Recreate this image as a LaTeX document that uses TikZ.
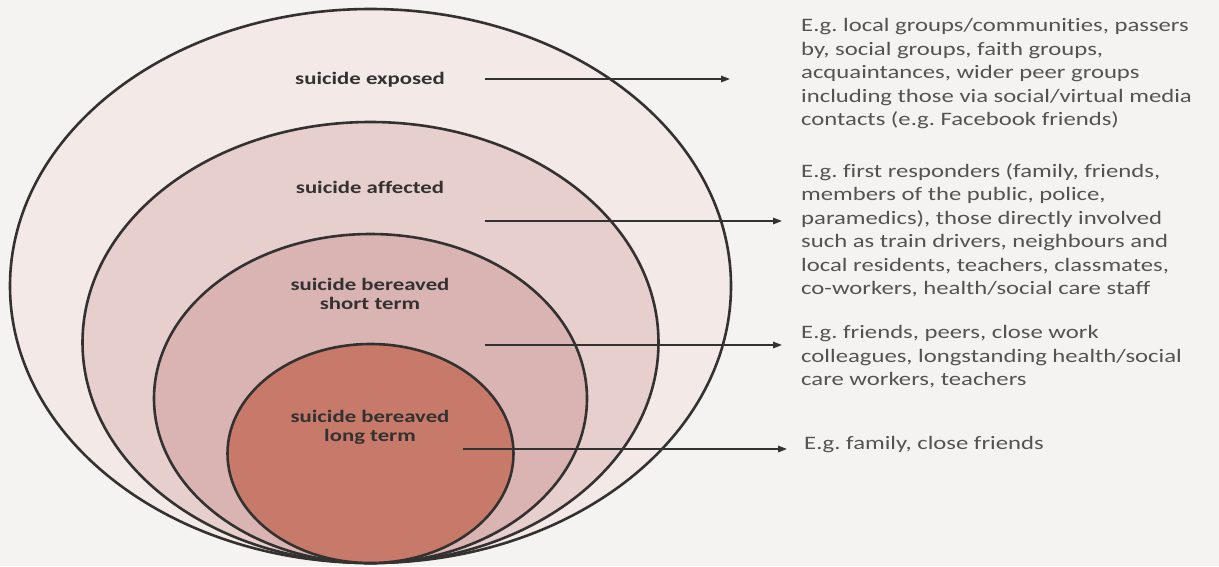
\documentclass[tikz,border=0pt]{standalone}
\usepackage{fontspec}
\setmainfont{Carlito}[FakeStretch=1.3,Ligatures=NoCommon]
\usetikzlibrary{shapes.geometric,arrows.meta}
\definecolor{bg}{RGB}{244,243,242}
\definecolor{c1}{RGB}{243,233,231}
\definecolor{c2}{RGB}{230,207,205}
\definecolor{c3}{RGB}{218,180,179}
\definecolor{c4}{RGB}{200,122,106}
\definecolor{ink}{RGB}{52,49,49}
\definecolor{txt}{RGB}{84,82,82}
\begin{document}
\frenchspacing
\begin{tikzpicture}[x=1pt,y=-1pt,
  ring/.style={ellipse, draw=ink, line width=2.6pt, inner sep=0pt, outer sep=0pt},
  lab/.style={font=\fontsize{17.5}{18.5}\selectfont\bfseries, text=ink, align=center, inner sep=0pt, anchor=base},
  desc/.style={font=\fontsize{19}{23.5}\selectfont, text=txt, align=left, anchor=base west, inner sep=0pt},
  pointer/.style={draw=ink, line width=1.5pt, -{Triangle[length=9pt,width=6.5pt]}}]
\useasboundingbox (0,0) rectangle (1219,566);
\fill[bg] (0,0) rectangle (1219,566);
\node[ring, fill=c1, minimum width=721pt, minimum height=554pt] (r1) at (370.5,286) {};
\node[ring, fill=c2, minimum width=576pt, minimum height=441pt] (r2) at (370.5,342.5) {};
\node[ring, fill=c3, minimum width=433pt, minimum height=329pt] (r3) at (370.5,398.5) {};
\node[ring, fill=c4, minimum width=286pt, minimum height=219pt] (r4) at (370.5,453.5) {};
\node[lab] (l1) at (370,84) {suicide exposed};
\node[lab] (l2) at (370,193) {suicide affected};
\node[lab] (l3) at (370,309) {suicide bereaved\\short term};
\node[lab] (l4) at (370,441) {suicide bereaved\\long term};
\node[desc] (t1) at (801,125.5) {E.g. local groups/communities, passers\\by, social groups, faith groups,\\acquaintances, wider peer groups\\including those via social/virtual media\\contacts (e.g. Facebook friends)};
\node[desc] (t2) at (801,294.5) {E.g. first responders (family, friends,\\members of the public, police,\\paramedics), those directly involved\\such as train drivers, neighbours and\\local residents, teachers, classmates,\\co-workers, health/social care staff};
\node[desc] (t3) at (801,385.5) {E.g. friends, peers, close work\\colleagues, longstanding health/social\\care workers, teachers};
\node[desc] (t4) at (804,449.5) {E.g. family, close friends};
\coordinate (s1) at (485,79);  \coordinate (e1) at (730,79);
\coordinate (s2) at (485,221); \coordinate (e2) at (782,221);
\coordinate (s3) at (485,345); \coordinate (e3) at (782,345);
\coordinate (s4) at (463,449); \coordinate (e4) at (787,449);
\draw[pointer] (s1) -- (e1);
\draw[pointer] (s2) -- (e2);
\draw[pointer] (s3) -- (e3);
\draw[pointer] (s4) -- (e4);
\end{tikzpicture}
\end{document}
